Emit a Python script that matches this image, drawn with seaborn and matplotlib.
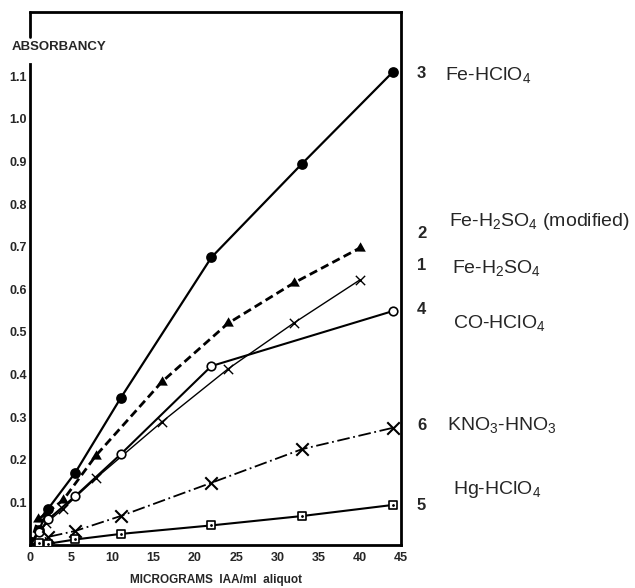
import matplotlib
matplotlib.use('Agg')
import matplotlib.pyplot as plt
import seaborn as sns

# Values
# x = micrograms IAA/ml aliquot, y = absorbancy (every curve starts at the origin)
x3 = [0, 1.1, 2.2, 5.5, 11, 22, 33, 44]
y3 = [0, 0.035, 0.085, 0.17, 0.345, 0.675, 0.895, 1.11]

x2 = [0, 1, 2, 4, 8, 16, 24, 32, 40]
y2 = [0, 0.06, 0.075, 0.105, 0.21, 0.383, 0.52, 0.615, 0.697]

x1 = [0, 2, 4, 8, 16, 24, 32, 40]
y1 = [0, 0.052, 0.085, 0.157, 0.289, 0.413, 0.521, 0.622]

x4 = [0, 1.1, 2.2, 5.5, 11, 22, 44]
y4 = [0, 0.03, 0.06, 0.115, 0.213, 0.42, 0.549]

x6 = [0, 2.2, 5.5, 11, 22, 33, 44]
y6 = [0, 0.019, 0.033, 0.068, 0.146, 0.225, 0.275]

x5 = [0, 1.1, 2.2, 5.5, 11, 22, 33, 44]
y5 = [0, 0.005, 0.003, 0.013, 0.026, 0.046, 0.068, 0.094]

curve_numbers = ['3', '2', '1', '4', '6', '5']
curve_names = ['Fe-HClO$_4$', 'Fe-H$_2$SO$_4$ (modified)', 'Fe-H$_2$SO$_4$',
               'CO-HClO$_4$', 'KNO$_3$-HNO$_3$', 'Hg-HClO$_4$']

xticks = [0, 5, 10, 15, 20, 25, 30, 35, 40, 45]
yticks = [0.1, 0.2, 0.3, 0.4, 0.5, 0.6, 0.7, 0.8, 0.9, 1.0, 1.1]
ytick_labels = ['0.1', '0.2', '0.3', '0.4', '0.5', '0.6', '0.7', '0.8', '0.9', '1.0', '1.1']

sns.set_style('white')
plt.rcParams['font.family'] = ['Liberation Sans', 'DejaVu Sans']
plt.rcParams['mathtext.default'] = 'regular'

W, H = 635, 588
fig = plt.figure(figsize=(W / 100, H / 100), dpi=100)
ax = fig.add_axes([30 / W, 43 / H, 371 / W, 533 / H])


def curve(x, y, lw, ls='-'):
    sns.lineplot(x=x, y=y, sort=False, estimator=None, color='black',
                 lw=lw, ls=ls, ax=ax)


# 3  Fe-HClO4
curve(x3, y3, 1.6)
ax.scatter(x3[1:], y3[1:], marker='o', s=60, color='black', linewidths=0, zorder=3)

# 2  Fe-H2SO4 (modified)
curve(x2, y2, 2.0, (0, (3, 1.6)))
ax.scatter(x2[1:], y2[1:], marker=(3, 0, 119), s=80, color='black', linewidths=0, zorder=3)

# 1  Fe-H2SO4
curve(x1, y1, 1.0)
ax.scatter(x1[1:], y1[1:], marker='x', s=45, color='black', linewidths=1.0, zorder=3)

# 4  CO-HClO4
curve(x4, y4, 1.5)
ax.scatter(x4[1:], y4[1:], marker='o', s=38, facecolors='white', edgecolors='black',
           linewidths=1.2, zorder=3)

# 6  KNO3-HNO3
curve(x6, y6, 1.3, (0, (7, 2, 1, 2)))
ax.scatter(x6[1:], y6[1:], marker='x', s=80, color='black', linewidths=1.5, zorder=3)

# 5  Hg-HClO4
curve(x5, y5, 1.5)
ax.scatter(x5[1:], y5[1:], marker='s', s=40, facecolors='white', edgecolors='black',
           linewidths=1.2, zorder=3)
ax.scatter(x5[1:], y5[1:], marker='.', s=4, color='black', zorder=4)

ax.set_xlim(0, 45)
ax.set_ylim(0, 1.251)
ax.set_xticks(xticks)
ax.set_xticklabels([str(t) for t in xticks])
ax.set_yticks(yticks)
ax.set_yticklabels(ytick_labels)
ax.tick_params(length=0, labelsize=9)
ax.tick_params(axis='x', pad=5)
ax.tick_params(axis='y', pad=2)
for lab in ax.get_xticklabels() + ax.get_yticklabels():
    lab.set_fontweight('bold')

for side in ['top', 'right', 'bottom', 'left']:
    ax.spines[side].set_linewidth(2)
    ax.spines[side].set_color('black')
ax.spines['left'].set_bounds(0, 1.13)
ax.axvline(0, ymin=0.953, ymax=1, color='black', lw=2, clip_on=False)

ax.set_xlabel('MICROGRAMS  IAA/ml  aliquot', fontsize=8.5, fontweight='bold', labelpad=7)
ax.set_ylabel('')
fig.text(12 / W, 1 - 47 / H, 'ABSORBANCY', fontsize=9.5, fontweight='bold', va='center')

# curve numbers and names at the right of the frame
num_y = [74, 233, 266, 310, 425, 506]
name_x = [445, 449, 452, 453, 447, 453]
name_y = [75, 222, 268, 323, 425, 490]
for n, ny in zip(curve_numbers, num_y):
    fig.text(417 / W, 1 - ny / H, n, fontsize=12, fontweight='bold', va='center')
for nm, nx, ny in zip(curve_names, name_x, name_y):
    fig.text(nx / W, 1 - ny / H, nm, fontsize=14, va='center')

fig.savefig('out.png', dpi=100)
